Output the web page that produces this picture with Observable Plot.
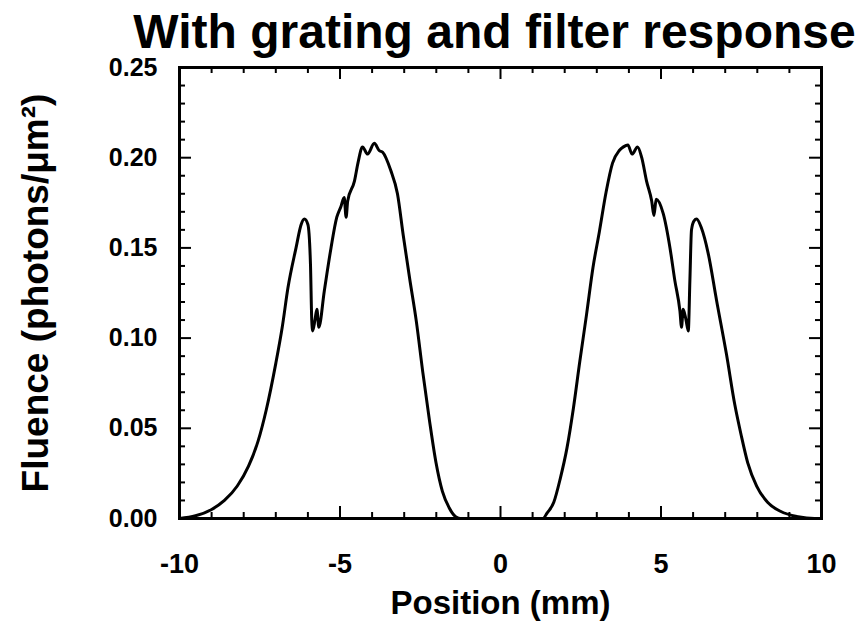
<!DOCTYPE html>
<html>
<head>
<meta charset="utf-8">
<script src="https://cdn.jsdelivr.net/npm/d3@7"></script>
<script src="https://cdn.jsdelivr.net/npm/@observablehq/plot@0.6"></script>
<style>
  body { margin: 0; background: #fff; }
  #chart { width: 866px; height: 636px; }
</style>
</head>
<body>
<div id="chart"></div>
<script>
const title = "With grating and filter response";
const xLabel = "Position (mm)";
const yLabel = "Fluence (photons/\u03bcm\u00b2)";

const xMajorTicks = [-10, -5, 0, 5, 10];
const xMinorTicks = [-9, -8, -7, -6, -4, -3, -2, -1, 1, 2, 3, 4, 6, 7, 8, 9];
const yMajorTicks = [0, 0.05, 0.10, 0.15, 0.20, 0.25];
const yMinorTicks = [0.01, 0.02, 0.03, 0.04, 0.06, 0.07, 0.08, 0.09, 0.11, 0.12, 0.13, 0.14,
                     0.16, 0.17, 0.18, 0.19, 0.21, 0.22, 0.23, 0.24];

// Left lobe (position in mm, fluence)
const leftX = [-10, -9.5, -9.0, -8.6, -8.2, -7.85, -7.55, -7.3, -7.0, -6.8,
               -6.62, -6.37, -6.21, -6.11, -6.00, -5.92, -5.88, -5.85, -5.78, -5.72,
               -5.66, -5.49, -5.28, -5.10, -4.97, -4.87, -4.81, -4.76, -4.55, -4.43,
               -4.30, -4.14, -3.93, -3.78, -3.67, -3.42, -3.21, -3.03, -2.83, -2.62,
               -2.42, -2.21, -2.01, -1.81, -1.60, -1.40, -1.26];
const leftY = [0, 0.0015, 0.005, 0.010, 0.018, 0.029, 0.043, 0.060, 0.086, 0.106,
               0.128, 0.150, 0.163, 0.166, 0.163, 0.141, 0.110, 0.104, 0.110, 0.116,
               0.106, 0.126, 0.150, 0.167, 0.173, 0.178, 0.167, 0.176, 0.187, 0.198,
               0.206, 0.202, 0.208, 0.204, 0.203, 0.193, 0.180, 0.157, 0.133, 0.109,
               0.081, 0.054, 0.031, 0.015, 0.006, 0.001, 0];

// Right lobe
const rightX = [1.32, 1.45, 1.66, 1.86, 2.07, 2.27, 2.47, 2.68, 2.88, 3.08,
                3.29, 3.49, 3.70, 3.83, 3.97, 4.10, 4.27, 4.40, 4.55, 4.71,
                4.78, 4.85, 5.07, 5.28, 5.43, 5.59, 5.64, 5.69, 5.78, 5.85,
                5.90, 5.95, 6.03, 6.11, 6.26, 6.47, 6.73, 7.04, 7.30, 7.50,
                7.70, 7.98, 8.32, 8.72, 9.27, 9.78, 10];
const rightY = [0, 0.003, 0.009, 0.022, 0.039, 0.061, 0.087, 0.113, 0.139, 0.159,
                0.181, 0.197, 0.204, 0.206, 0.207, 0.202, 0.206, 0.200, 0.187, 0.176,
                0.168, 0.177, 0.169, 0.150, 0.132, 0.115, 0.106, 0.116, 0.110, 0.104,
                0.132, 0.160, 0.165, 0.166, 0.161, 0.147, 0.121, 0.091, 0.063, 0.046,
                0.031, 0.018, 0.009, 0.004, 0.001, 0, 0];

const data = [
  ...leftX.map((x, i) => ({x, y: leftY[i]})),
  ...rightX.map((x, i) => ({x, y: rightY[i]}))
];

const W = 866, H = 636;
const mTop = 67, mRight = 45, mBottom = 118, mLeft = 179;
const fw = W - mLeft - mRight, fh = H - mTop - mBottom;
const font = "'Liberation Sans', Arial, Helvetica, sans-serif";
const majorLen = 12, minorLen = 6;

function xTicks(values, len) {
  return [
    Plot.tickX(values, {x: d => d, insetTop: fh - len, stroke: "#000", strokeWidth: 2}),
    Plot.tickX(values, {x: d => d, insetBottom: fh - len, stroke: "#000", strokeWidth: 2})
  ];
}
function yTicks(values, len) {
  return [
    Plot.tickY(values, {y: d => d, insetRight: fw - len, stroke: "#000", strokeWidth: 2}),
    Plot.tickY(values, {y: d => d, insetLeft: fw - len, stroke: "#000", strokeWidth: 2})
  ];
}

const chart = Plot.plot({
  width: W, height: H,
  marginTop: mTop, marginRight: mRight, marginBottom: mBottom, marginLeft: mLeft,
  style: {fontFamily: font, background: "#fff", color: "#000", overflow: "visible"},
  x: {domain: [-10, 10]},
  y: {domain: [0, 0.25]},
  marks: [
    ...xTicks(xMinorTicks, minorLen),
    ...xTicks(xMajorTicks, majorLen),
    ...yTicks(yMinorTicks, minorLen),
    ...yTicks(yMajorTicks, majorLen),
    Plot.line(data, {x: "x", y: "y", stroke: "#000", strokeWidth: 3, curve: "monotone-x"}),
    Plot.frame({stroke: "#000", strokeWidth: 3}),
    Plot.axisX(xMajorTicks, {anchor: "bottom", tickSize: 0, tickPadding: 35, fontSize: 27,
      fontWeight: "bold", fill: "#000", tickFormat: d => String(d), label: null}),
    Plot.axisY(yMajorTicks, {anchor: "left", tickSize: 0, tickPadding: 22, fontSize: 25,
      fontWeight: "bold", fill: "#000", tickFormat: d3.format(".2f"), label: null}),
    Plot.text([title], {frameAnchor: "top", lineAnchor: "middle", dx: -6, dy: -35,
      fontSize: 48, fontWeight: "bold", fill: "#000"}),
    Plot.text([xLabel], {frameAnchor: "bottom", lineAnchor: "middle", dy: 85,
      fontSize: 33, fontWeight: "bold", fill: "#000"}),
    Plot.text([yLabel], {frameAnchor: "left", textAnchor: "middle", lineAnchor: "middle",
      dx: -143, rotate: -90, fontSize: 37, fontWeight: "bold", fill: "#000"})
  ]
});
document.getElementById("chart").appendChild(chart);
</script>
</body>
</html>
